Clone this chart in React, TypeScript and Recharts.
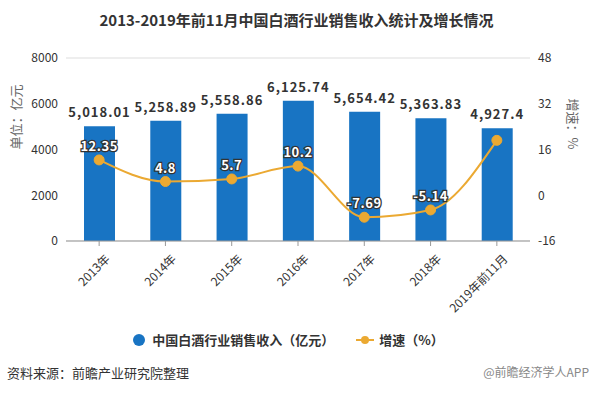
import React from 'react';
import { ComposedChart, Bar, Line, XAxis, YAxis, CartesianGrid, LabelList } from 'recharts';

const years = ['2013年', '2014年', '2015年', '2016年', '2017年', '2018年', '2019年前11月'];
const revenue = [5018.01, 5258.89, 5558.86, 6125.74, 5654.42, 5363.83, 4927.4];
const growth = [12.35, 4.8, 5.7, 10.2, -7.69, -5.14, 19.2];
const growthLabels = ['12.35', '4.8', '5.7', '10.2', '-7.69', '-5.14', ''];

const leftTicks = [0, 2000, 4000, 6000, 8000];
const rightTicks = [-16, 0, 16, 32, 48];

const BAR_COLOR = '#1874c3';
const LINE_COLOR = '#eba932';
const FONT = '"Noto Sans CJK SC", "Noto Sans", sans-serif';

const data = years.map((year, i) => ({
  year,
  revenue: revenue[i],
  growth: growth[i],
  growthLabel: growthLabels[i],
}));

const XTick = (props: any) => {
  const { x, y, payload } = props;
  return (
    <g transform={`translate(${x + 6},${y + 6})`}>
      <text x={0} y={0} dy={8} textAnchor="end" transform="rotate(-45)" fill="#333" fontSize={12} fontFamily={FONT}>
        {payload.value}
      </text>
    </g>
  );
};

const GrowthLabel = (props: any) => {
  const { x, y, value } = props;
  if (!value) return null;
  return (
    <text x={x} y={y - 9} textAnchor="middle" fontSize={13} fontWeight="bold" fontFamily={FONT}
      fill="#fff" stroke="#333" strokeWidth={2.5} paintOrder="stroke" letterSpacing={0.5}>
      {value}
    </text>
  );
};

export default function App() {
  return (
    <div style={{ position: 'absolute', left: 0, top: 0, width: 593, height: 394, background: '#fff', fontFamily: FONT }}>
      <div style={{ position: 'absolute', left: 0, top: 9, width: 593, textAlign: 'center', fontSize: 15, fontWeight: 'bold', color: '#333' }}>
        2013-2019年前11月中国白酒行业销售收入统计及增长情况
      </div>
      <ComposedChart width={593} height={394} data={data} margin={{ top: 58, right: 0, left: 0, bottom: 90 }}>
        <CartesianGrid vertical={false} stroke="#ddd" />
        <XAxis dataKey="year" height={63} tick={<XTick />} interval={0} stroke="#999" tickSize={5} />
        <YAxis yAxisId="left" width={66} domain={[0, 8000]} ticks={leftTicks} axisLine={false} tickLine={false}
          tick={{ fill: '#333', fontSize: 12, fontFamily: FONT }}
          label={{ value: '单位：亿元', angle: -90, position: 'insideLeft', offset: 16, fill: '#666', fontSize: 13, fontFamily: FONT }} />
        <YAxis yAxisId="right" orientation="right" width={63} domain={[-16, 48]} ticks={rightTicks} axisLine={false} tickLine={false}
          tick={{ fill: '#333', fontSize: 12, fontFamily: FONT }}
          label={{ value: '增速：%', angle: 90, position: 'insideRight', offset: 20, fill: '#666', fontSize: 13, fontFamily: FONT }} />
        <Bar yAxisId="left" dataKey="revenue" fill={BAR_COLOR} barSize={31} isAnimationActive={false}>
          <LabelList dataKey="revenue" position="top" offset={9}
            formatter={(v: any) => Number(v).toLocaleString('en-US', { maximumFractionDigits: 2 })}
            style={{ fill: '#333', fontSize: 13, fontWeight: 'bold', fontFamily: FONT, letterSpacing: 1 }} />
        </Bar>
        <Line yAxisId="right" type="monotone" dataKey="growth" stroke={LINE_COLOR} strokeWidth={2}
          dot={{ r: 5, fill: LINE_COLOR, stroke: LINE_COLOR, strokeWidth: 1 }} isAnimationActive={false}>
          <LabelList dataKey="growthLabel" content={<GrowthLabel />} />
        </Line>
      </ComposedChart>
      <div style={{ position: 'absolute', left: -8, top: 330, width: 593, display: 'flex', justifyContent: 'center', alignItems: 'center', fontSize: 13, fontWeight: 'bold', color: '#333' }}>
        <span style={{ display: 'inline-block', width: 12, height: 12, borderRadius: 6, background: BAR_COLOR, marginRight: 7 }} />
        <span>中国白酒行业销售收入（亿元）</span>
        <svg width={18} height={12} style={{ marginLeft: 22, marginRight: 5 }}>
          <line x1={0} y1={6} x2={18} y2={6} stroke={LINE_COLOR} strokeWidth={2} />
          <circle cx={9} cy={6} r={4} fill={LINE_COLOR} />
        </svg>
        <span>增速（%）</span>
      </div>
      <div style={{ position: 'absolute', left: 7, top: 363, fontSize: 13, color: '#333' }}>资料来源：前瞻产业研究院整理</div>
      <div style={{ position: 'absolute', right: 4, top: 363, fontSize: 12, color: '#888' }}>@前瞻经济学人APP</div>
    </div>
  );
}
